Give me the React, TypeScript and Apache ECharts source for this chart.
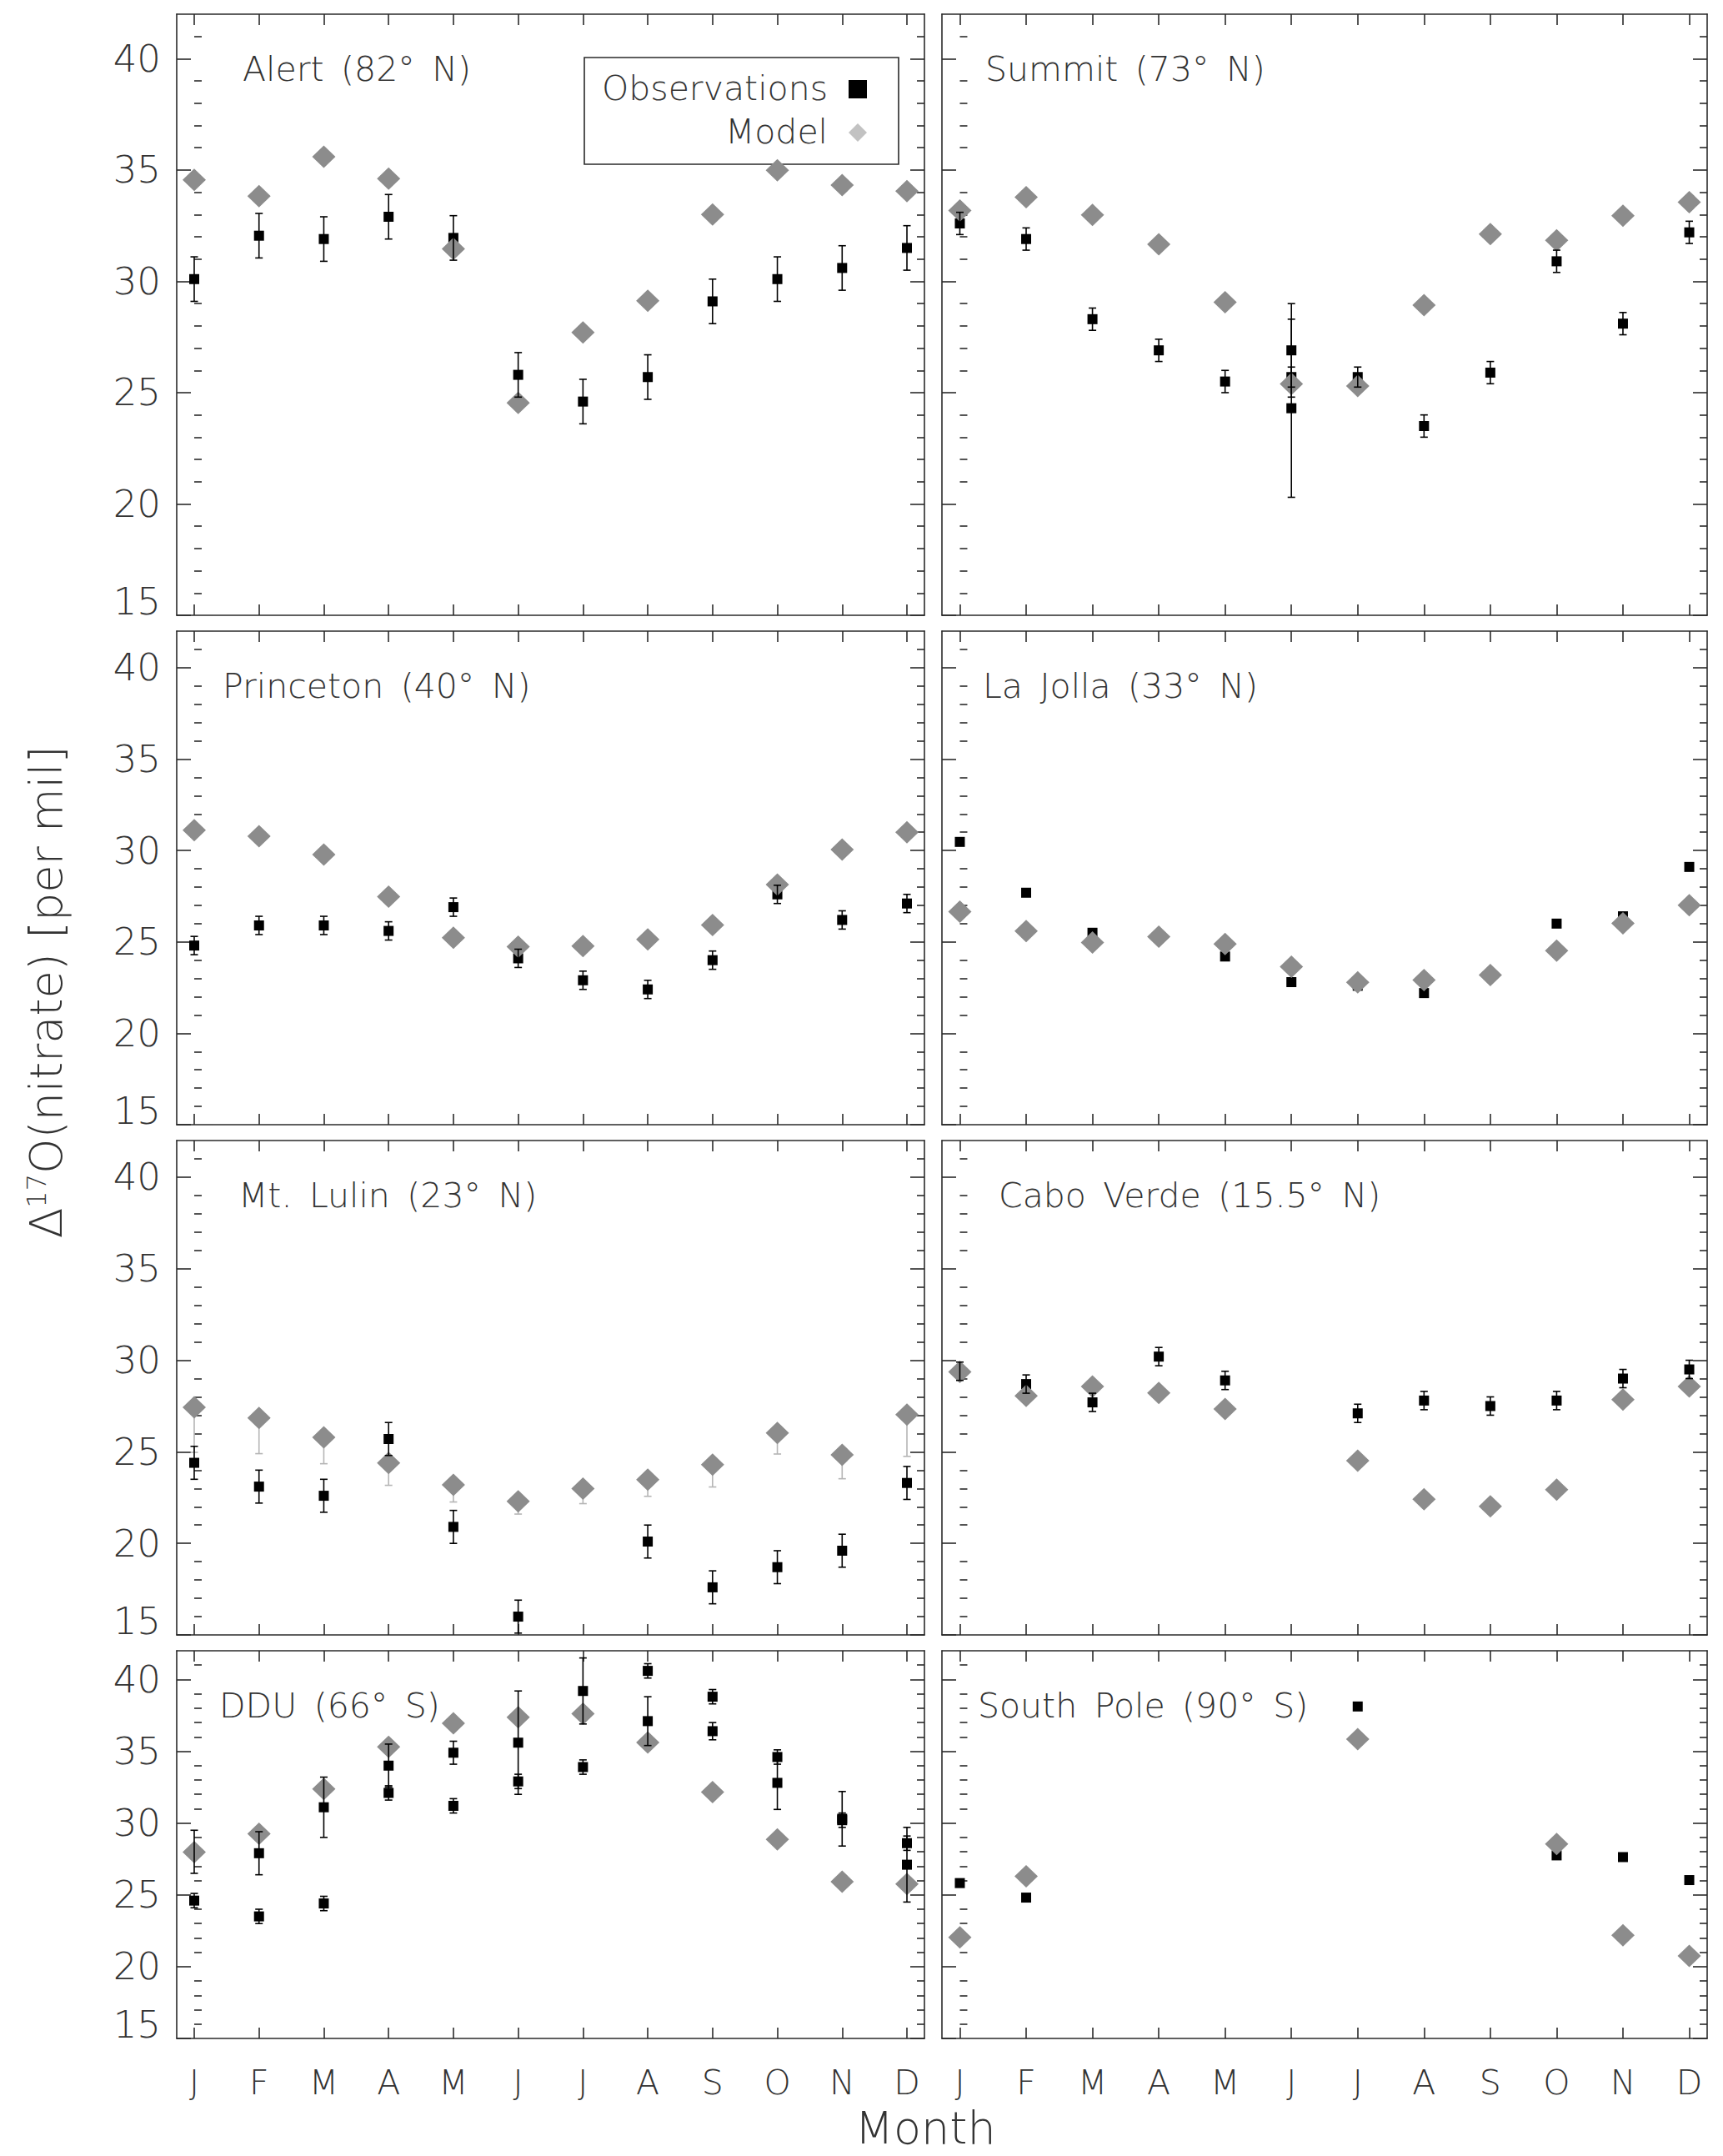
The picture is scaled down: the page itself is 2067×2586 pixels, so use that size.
import React, { useEffect, useRef } from "react";
import * as echarts from "echarts";

const FONT = '"DejaVu Sans", Inter, Lato, sans-serif';
const FW = 200;
const TXT = "#333";
const LINE = "#2a2a2a";

const MONTHS = ["J", "F", "M", "A", "M", "J", "J", "A", "S", "O", "N", "D"];
const X_TICKS = [0, 1, 2, 3, 4, 5, 6, 7, 8, 9, 10, 11];
const Y_MAJOR = [15, 20, 25, 30, 35, 40];
const Y_MINOR = [16, 17, 18, 19, 21, 22, 23, 24, 26, 27, 28, 29, 31, 32, 33, 34, 36, 37, 38, 39, 41];

// observations: [monthIndex, value, error]
const alertObs = [[0, 30.1, 1.0], [1, 32.05, 1.0], [2, 31.9, 1.0], [3, 32.9, 1.0], [4, 31.95, 1.0], [5, 25.8, 1.0], [6, 24.6, 1.0], [7, 25.7, 1.0], [8, 29.1, 1.0], [9, 30.1, 1.0], [10, 30.6, 1.0], [11, 31.5, 1.0]];
const alertModel = [34.56, 33.83, 35.6, 34.61, 31.46, 24.54, 27.7, 29.13, 33.0, 34.99, 34.32, 34.05];

const summitObs = [[0, 32.6, 0.5], [1, 31.9, 0.5], [2, 28.3, 0.5], [3, 26.9, 0.5], [4, 25.5, 0.5], [5, 26.9, 2.1], [5, 25.7, 0.45], [5, 24.3, 4.0], [6, 25.7, 0.45], [7, 23.5, 0.5], [8, 25.9, 0.5], [9, 30.9, 0.5], [10, 28.1, 0.5], [11, 32.2, 0.5]];
const summitModel = [33.18, 33.78, 32.98, 31.66, 29.06, 25.39, 25.3, 28.93, 32.12, 31.84, 32.95, 33.56];

const princetonObs = [[0, 24.8, 0.5], [1, 25.9, 0.5], [2, 25.9, 0.5], [3, 25.6, 0.5], [4, 26.9, 0.5], [5, 24.1, 0.5], [6, 22.9, 0.5], [7, 22.4, 0.5], [8, 24.0, 0.5], [9, 27.6, 0.5], [10, 26.2, 0.5], [11, 27.1, 0.5]];
const princetonModel = [31.11, 30.78, 29.78, 27.47, 25.23, 24.74, 24.77, 25.14, 25.92, 28.14, 30.05, 31.0];

const laJollaObs = [[0, 30.47], [1, 27.69], [2, 25.5], [4, 24.2], [5, 22.8], [6, 22.6], [7, 22.2], [9, 26.0], [10, 26.4], [11, 29.1]];
const laJollaModel = [26.65, 25.59, 24.97, 25.28, 24.88, 23.64, 22.79, 22.91, 23.19, 24.52, 26.01, 27.01];

const lulinObs = [[0, 24.4, 0.9], [1, 23.1, 0.9], [2, 22.6, 0.9], [3, 25.7, 0.9], [4, 20.9, 0.9], [5, 16.0, 0.9], [7, 20.1, 0.9], [8, 17.6, 0.9], [9, 18.7, 0.9], [10, 19.6, 0.9], [11, 23.3, 0.9]];
const lulinModel = [27.43, 26.85, 25.79, 24.39, 23.2, 22.3, 22.99, 23.48, 24.3, 26.03, 24.84, 27.03];
const lulinModelLow = [24.97, 24.9, 24.35, 23.17, 22.26, 21.6, 22.17, 22.57, 23.08, 24.88, 23.53, 24.75];

const caboObs = [[0, 29.4, 0.5], [1, 28.7, 0.5], [2, 27.7, 0.5], [3, 30.2, 0.5], [4, 28.9, 0.5], [6, 27.1, 0.5], [7, 27.8, 0.5], [8, 27.5, 0.5], [9, 27.8, 0.5], [10, 29.0, 0.5], [11, 29.5, 0.5]];
const caboModel = [29.36, 28.06, 28.57, 28.21, 27.34, null, 24.52, 22.41, 22.02, 22.93, 27.85, 28.57];

const dduObs = [[0, 28.0, 1.5], [0, 24.6, 0.5], [1, 27.9, 1.5], [1, 23.5, 0.5], [2, 31.1, 2.1], [2, 24.4, 0.5], [3, 34.0, 1.5], [3, 32.1, 0.5], [4, 34.9, 0.8], [4, 31.2, 0.5], [5, 35.6, 3.6], [5, 32.9, 0.5], [6, 39.2, 2.3], [6, 33.9, 0.5], [7, 40.6, 0.5], [7, 37.1, 1.7], [8, 38.8, 0.5], [8, 36.4, 0.6], [9, 34.6, 0.5], [9, 32.8, 1.85], [10, 30.3, 1.9], [10, 30.2, 0.5], [11, 28.6, 0.5], [11, 27.1, 2.6]];
const dduModel = [27.98, 29.25, 32.37, 35.31, 36.95, 37.37, 37.61, 35.61, 32.16, 28.87, 25.92, 25.75];

const spObs = [[0, 25.82], [1, 24.81], [6, 38.12], [9, 27.75], [10, 27.63], [11, 26.03]];
const spModel = [22.04, 26.29, null, null, null, null, 35.85, null, null, 28.54, 22.18, 20.75];

const SP = "\u2002";
const PANELS = [
  { title: `Alert${SP}(82°${SP}N)`, obs: alertObs, model: alertModel, low: null, row: 0, col: 0, tx: 291 },
  { title: `Summit${SP}(73°${SP}N)`, obs: summitObs, model: summitModel, low: null, row: 0, col: 1, tx: 1182 },
  { title: `Princeton${SP}(40°${SP}N)`, obs: princetonObs, model: princetonModel, low: null, row: 1, col: 0, tx: 267 },
  { title: `La${SP}Jolla${SP}(33°${SP}N)`, obs: laJollaObs, model: laJollaModel, low: null, row: 1, col: 1, tx: 1179 },
  { title: `Mt.${SP}Lulin${SP}(23°${SP}N)`, obs: lulinObs, model: lulinModel, low: lulinModelLow, row: 2, col: 0, tx: 286 },
  { title: `Cabo${SP}Verde${SP}(15.5°${SP}N)`, obs: caboObs, model: caboModel, low: null, row: 2, col: 1, tx: 1198 },
  { title: `DDU${SP}(66°${SP}S)`, obs: dduObs, model: dduModel, low: null, row: 3, col: 0, tx: 263 },
  { title: `South${SP}Pole${SP}(90°${SP}S)`, obs: spObs, model: spModel, low: null, row: 3, col: 1, tx: 1173 },
];

const COLS = [{ left: 212, width: 897 }, { left: 1130, width: 918 }];
const ROWS = [{ top: 17, height: 721 }, { top: 757, height: 592 }, { top: 1368, height: 593 }, { top: 1980, height: 465 }];

function errSeries(data: any[], xi: number, yi: number, color: string, z: number, w: number) {
  return {
    type: "custom",
    xAxisIndex: xi,
    yAxisIndex: yi,
    z,
    silent: true,
    data,
    encode: { x: 0, y: [1, 2] },
    renderItem: (params: any, api: any) => {
      const x = api.value(0);
      const a = api.coord([x, api.value(1)]);
      const b = api.coord([x, api.value(2)]);
      const c = 4.5;
      const st = { stroke: color, lineWidth: w, fill: "none" };
      return {
        type: "group",
        children: [
          { type: "line", shape: { x1: a[0], y1: a[1], x2: b[0], y2: b[1] }, style: st },
          { type: "line", shape: { x1: a[0] - c, y1: a[1], x2: a[0] + c, y2: a[1] }, style: st },
          { type: "line", shape: { x1: b[0] - c, y1: b[1], x2: b[0] + c, y2: b[1] }, style: st },
        ],
      };
    },
  };
}

function buildOption() {
  const grid: any[] = [];
  const xAxis: any[] = [];
  const yAxis: any[] = [];
  const series: any[] = [];
  const graphic: any[] = [];
  const axisLine = { show: true, onZero: false, lineStyle: { color: LINE, width: 1.6 } };

  PANELS.forEach((p, gi) => {
    const c = COLS[p.col];
    const r = ROWS[p.row];
    const gA = gi * 2;
    const gB = gi * 2 + 1;
    grid.push({ left: c.left, top: r.top, width: c.width, height: r.height, containLabel: false });
    grid.push({ left: c.left, top: r.top, width: c.width, height: r.height, containLabel: false });

    // grid A: frame, month ticks, major y ticks
    ["bottom", "top"].forEach((pos) => {
      xAxis.push({
        gridIndex: gA,
        type: "value",
        position: pos,
        min: -0.27,
        max: 11.27,
        axisLine,
        splitLine: { show: false },
        axisTick: { show: true, inside: true, length: 13, customValues: X_TICKS, lineStyle: { color: LINE, width: 1.6 } },
        axisLabel: {
          show: pos === "bottom" && p.row === 3,
          customValues: X_TICKS,
          formatter: (v: number) => MONTHS[Math.round(v)],
          fontSize: 41,
          fontFamily: FONT,
          fontWeight: FW,
          color: TXT,
          margin: 32,
        },
      });
    });
    // grid B: hidden x axis
    xAxis.push({ gridIndex: gB, type: "value", min: -0.27, max: 11.27, show: false });

    ["left", "right"].forEach((pos) => {
      yAxis.push({
        gridIndex: gA,
        type: "value",
        position: pos,
        min: 15,
        max: 42,
        axisLine,
        splitLine: { show: false },
        axisTick: { show: true, inside: true, length: 17, customValues: Y_MAJOR, lineStyle: { color: LINE, width: 1.6 } },
        axisLabel: {
          show: pos === "left" && p.col === 0,
          customValues: Y_MAJOR,
          formatter: (v: number) => (v === 15 ? "{lo|15}" : String(v)),
          fontSize: 45,
          fontFamily: FONT,
          fontWeight: FW,
          color: TXT,
          margin: 19,
          rich: { lo: { padding: [0, 0, 34, 0], fontSize: 45, fontFamily: FONT, fontWeight: FW, color: TXT } },
        },
      });
    });
    ["left", "right"].forEach((pos) => {
      yAxis.push({
        gridIndex: gB,
        type: "value",
        position: pos,
        min: 15,
        max: 42,
        axisLine: { show: false },
        splitLine: { show: false },
        axisTick: { show: true, inside: true, length: 9, customValues: Y_MINOR, lineStyle: { color: LINE, width: 1.6 } },
        axisLabel: { show: false },
      });
    });

    const xi = gi * 3;
    const yi = gi * 4;
    const withErr = p.obs.filter((o: any) => o.length > 2);
    if (withErr.length) {
      series.push(errSeries(withErr.map((o: any) => [o[0], o[1] - o[2], o[1] + o[2]]), xi, yi, "#000", 4, 1.6));
    }
    series.push({
      type: "scatter",
      xAxisIndex: xi,
      yAxisIndex: yi,
      z: 2,
      symbol: "rect",
      symbolSize: [12, 12],
      itemStyle: { color: "#000", opacity: 1 },
      data: p.obs.map((o: any) => [o[0], o[1]]),
    });
    const modelPts: any[] = [];
    p.model.forEach((v: any, i: number) => {
      if (v !== null) modelPts.push([i, v]);
    });
    if (p.low) {
      series.push(errSeries(p.low.map((lo: number, i: number) => [i, lo, p.model[i]]), xi, yi, "#b5b5b5", 1, 1.6));
    }
    series.push({
      type: "scatter",
      xAxisIndex: xi,
      yAxisIndex: yi,
      z: 3,
      symbol: "diamond",
      symbolSize: [28, 27],
      itemStyle: { color: "#8c8c8c", opacity: 1 },
      data: modelPts,
    });

    graphic.push({
      type: "text",
      x: p.tx,
      y: r.top + 66,
      style: { text: p.title, fontSize: 41, fontFamily: FONT, fontWeight: FW, fill: TXT, verticalAlign: "middle", align: "left" },
    });
  });

  // legend in Alert panel
  graphic.push(
    { type: "rect", shape: { x: 701, y: 69, width: 377, height: 128 }, style: { fill: "none", stroke: LINE, lineWidth: 1.6 } },
    { type: "text", x: 993, y: 106, style: { text: "Observations", fontSize: 41, fontFamily: FONT, fontWeight: FW, fill: TXT, align: "right", verticalAlign: "middle" } },
    { type: "text", x: 993, y: 158, style: { text: "Model", fontSize: 41, fontFamily: FONT, fontWeight: FW, fill: TXT, align: "right", verticalAlign: "middle" } },
    { type: "rect", shape: { x: 1018, y: 96, width: 22, height: 22 }, style: { fill: "#000" } },
    { type: "polygon", shape: { points: [[1029, 148], [1040, 159], [1029, 170], [1018, 159]] }, style: { fill: "#c2c2c2" } }
  );

  // axis titles
  graphic.push(
    {
      type: "text",
      x: 55,
      y: 1190,
      rotation: Math.PI / 2,
      style: {
        text: "{a|Δ}{s|17}{a|O(nitrate) [per mil]}",
        align: "center",
        verticalAlign: "middle",
        fill: TXT,
        rich: {
          a: { fontSize: 54, fontFamily: FONT, fontWeight: FW, fill: TXT, color: TXT, verticalAlign: "bottom" },
          s: { fontSize: 32, fontFamily: FONT, fontWeight: FW, fill: TXT, color: TXT, verticalAlign: "top" },
        },
      },
    },
    {
      type: "text",
      x: 1110,
      y: 2552,
      style: { text: "Month", fontSize: 54, fontFamily: FONT, fontWeight: FW, fill: TXT, align: "center", verticalAlign: "middle" },
    }
  );

  return {
    animation: false,
    backgroundColor: "#ffffff",
    textStyle: { fontFamily: FONT },
    grid,
    xAxis,
    yAxis,
    series,
    graphic,
  };
}

export default function App() {
  const ref = useRef<HTMLDivElement>(null);
  useEffect(() => {
    if (!ref.current) return;
    const chart = echarts.init(ref.current, undefined, { renderer: "svg" });
    chart.setOption(buildOption() as any);
    return () => chart.dispose();
  }, []);
  return <div ref={ref} style={{ position: "absolute", left: 0, top: 0, width: 2067, height: 2586, background: "#fff" }} />;
}
